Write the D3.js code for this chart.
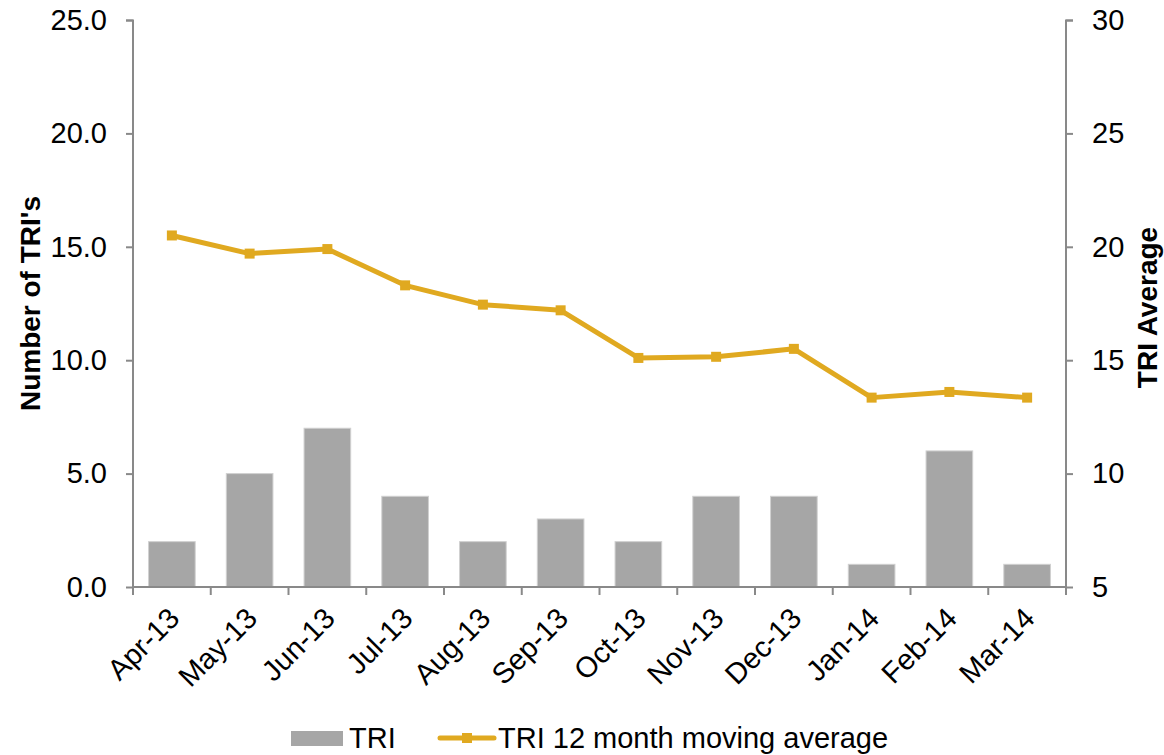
<!DOCTYPE html>
<html>
<head>
<meta charset="utf-8">
<script src="https://cdn.jsdelivr.net/npm/d3@7"></script>
<style>
  body { margin: 0; background: #fff; }
  text { font-family: "Liberation Sans", Arial, sans-serif; fill: #000; }
</style>
</head>
<body>
<svg id="chart" width="1164" height="755"></svg>
<script>
"use strict";

// data
const months = ["Apr-13", "May-13", "Jun-13", "Jul-13", "Aug-13", "Sep-13",
                "Oct-13", "Nov-13", "Dec-13", "Jan-14", "Feb-14", "Mar-14"];
const triCounts = [2, 5, 7, 4, 2, 3, 2, 4, 4, 1, 6, 1];
const triMovingAvg = [20.5, 19.7, 19.9, 18.3, 17.45, 17.2, 15.1, 15.15, 15.5, 13.35, 13.6, 13.35];
const leftTicks = [0, 5, 10, 15, 20, 25];
const rightTicks = [5, 10, 15, 20, 25, 30];

const svg = d3.select("#chart");
const margin = { top: 20, right: 98, bottom: 168, left: 133 };
const width = 1164 - margin.left - margin.right;
const height = 755 - margin.top - margin.bottom;

const axisColor = "#898989";
const barColor = "#a6a6a6";
const lineColor = "#e0a920";
const fontSize = "29px";

const g = svg.append("g")
    .attr("transform", "translate(" + margin.left + "," + margin.top + ")");

const x = d3.scaleBand().domain(months).range([0, width]).paddingInner(0.4).paddingOuter(0.2);
const yLeft = d3.scaleLinear().domain([0, 25]).range([height, 0]);
const yRight = d3.scaleLinear().domain([5, 30]).range([height, 0]);

// bars
g.append("g").selectAll("rect")
    .data(triCounts)
    .enter()
    .append("rect")
    .attr("x", (d, i) => x(months[i]))
    .attr("y", d => yLeft(d))
    .attr("width", x.bandwidth())
    .attr("height", d => height - yLeft(d))
    .attr("fill", barColor)
    .attr("stroke", "#d0d0d0")
    .attr("stroke-width", 1);

// left axis
const leftAxis = g.append("g")
    .call(d3.axisLeft(yLeft).tickValues(leftTicks).tickFormat(d3.format(".1f")).tickSize(7).tickPadding(19));
leftAxis.select(".domain").attr("stroke", axisColor).attr("stroke-width", 2).attr("d", "M-7,0.5H0V" + height);
leftAxis.selectAll(".tick line").attr("stroke", axisColor).attr("stroke-width", 2);
leftAxis.selectAll("text").style("font-size", fontSize).style("font-family", "'Liberation Sans', Arial, sans-serif");

// right axis
const rightAxis = g.append("g")
    .attr("transform", "translate(" + width + ",0)")
    .call(d3.axisRight(yRight).tickValues(rightTicks).tickFormat(d3.format("d")).tickSize(7).tickPadding(19));
rightAxis.select(".domain").attr("stroke", axisColor).attr("stroke-width", 2).attr("d", "M7,0.5H0V" + height);
rightAxis.selectAll(".tick line").attr("stroke", axisColor).attr("stroke-width", 2);
rightAxis.selectAll("text").style("font-size", fontSize).style("font-family", "'Liberation Sans', Arial, sans-serif");

// bottom axis: ticks at category boundaries
const boundaries = d3.range(months.length + 1).map(i => i * x.step());
const xb = g.append("g").attr("transform", "translate(0," + height + ")");
xb.append("line")
    .attr("x1", 0).attr("x2", width)
    .attr("stroke", axisColor).attr("stroke-width", 2);
xb.selectAll("line.tk")
    .data(boundaries)
    .enter()
    .append("line")
    .attr("class", "tk")
    .attr("x1", d => d).attr("x2", d => d)
    .attr("y1", 0).attr("y2", 8)
    .attr("stroke", axisColor).attr("stroke-width", 2);
xb.selectAll("text")
    .data(months)
    .enter()
    .append("text")
    .attr("transform", d => "translate(" + (x(d) + x.bandwidth() / 2 + 2) + ",26) rotate(-45)")
    .attr("text-anchor", "end")
    .attr("dy", "0.35em")
    .style("font-size", fontSize)
    .text(d => d);

// moving average line
const line = d3.line()
    .x((d, i) => x(months[i]) + x.bandwidth() / 2)
    .y(d => yRight(d));
g.append("path")
    .datum(triMovingAvg)
    .attr("d", line)
    .attr("fill", "none")
    .attr("stroke", lineColor)
    .attr("stroke-width", 5)
    .attr("stroke-linejoin", "round");
g.append("g").selectAll("rect")
    .data(triMovingAvg)
    .enter()
    .append("rect")
    .attr("x", (d, i) => x(months[i]) + x.bandwidth() / 2 - 5)
    .attr("y", d => yRight(d) - 5)
    .attr("width", 10)
    .attr("height", 10)
    .attr("fill", lineColor);

// axis titles
svg.append("text")
    .attr("transform", "translate(40," + (margin.top + height / 2) + ") rotate(-90)")
    .attr("text-anchor", "middle")
    .style("font-size", "28px")
    .style("font-weight", "bold")
    .text("Number of TRI's");
svg.append("text")
    .attr("transform", "translate(1157," + (margin.top + height / 2 + 4) + ") rotate(-90)")
    .attr("text-anchor", "middle")
    .style("font-size", "28px")
    .style("font-weight", "bold")
    .text("TRI Average");

// legend
const legend = svg.append("g");
legend.append("rect")
    .attr("x", 291).attr("y", 731).attr("width", 52).attr("height", 15)
    .attr("fill", barColor);
legend.append("text")
    .attr("x", 349).attr("y", 748)
    .style("font-size", fontSize)
    .text("TRI");
legend.append("line")
    .attr("x1", 440).attr("x2", 494).attr("y1", 738).attr("y2", 738)
    .attr("stroke", lineColor).attr("stroke-width", 5).attr("stroke-linecap", "round");
legend.append("rect")
    .attr("x", 462).attr("y", 733).attr("width", 10).attr("height", 10)
    .attr("fill", lineColor);
legend.append("text")
    .attr("x", 498).attr("y", 748)
    .style("font-size", fontSize)
    .text("TRI 12 month moving average");
</script>
</body>
</html>
